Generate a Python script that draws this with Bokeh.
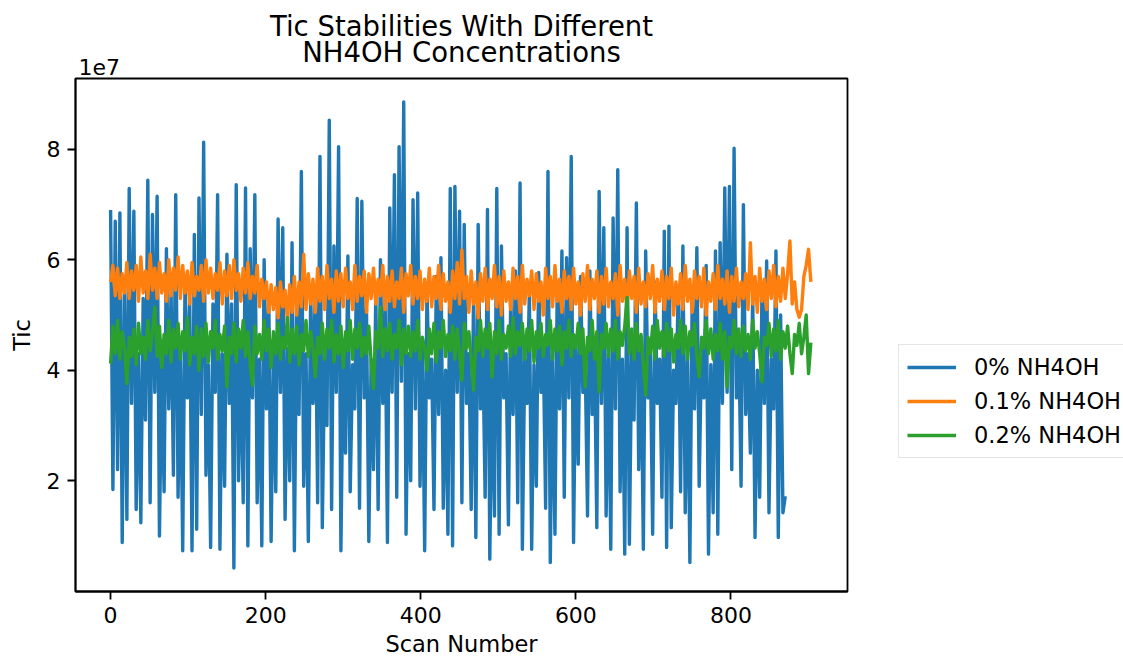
import numpy as np
from bokeh.plotting import figure
from bokeh.models import (Range1d, FixedTicker, CustomJSTickFormatter, Title,
                          Legend, LegendItem)
from bokeh.embed import file_html
from bokeh.resources import INLINE

# ---------------- data (in units of 1e7) ----------------
SCAN_0 = list(range(0, 871, 3))
TIC_0 = [
    6.9, 1.84, 6.7, 2.2, 6.85, 0.88, 5.6, 1.3, 7.29, 3.4,
    6.88, 1.48, 4.3, 1.24, 5.3, 3.1, 7.44, 1.6, 6.82, 3.6,
    7.15, 1.0, 4.2, 1.8, 6.2, 3.3, 5.4, 2.1, 7.18, 1.7,
    4.4, 0.73, 5.6, 3.5, 5.3, 0.73, 6.46, 1.12, 7.12, 3.2,
    8.13, 2.1, 4.1, 0.79, 5.2, 3.6, 7.18, 0.76, 4.3, 1.9,
    6.1, 3.4, 5.2, 0.42, 7.36, 2.0, 4.5, 1.6, 7.3, 0.82,
    6.2, 3.5, 7.18, 1.6, 4.2, 0.82, 6.0, 3.3, 5.3, 0.9,
    4.3, 1.8, 6.74, 3.6, 6.58, 1.3, 4.4, 2.0, 6.31, 0.73,
    5.2, 3.2, 7.6, 1.9, 4.3, 0.9, 5.4, 3.4, 5.5, 1.6,
    7.87, 1.15, 4.2, 3.0, 8.53, 1.48, 6.25, 3.6, 8.05, 0.73,
    4.4, 2.5, 6.07, 1.8, 4.1, 3.3, 7.11, 1.5, 7.06, 3.5,
    5.1, 0.9, 4.2, 2.2, 5.4, 1.48, 6.0, 3.4, 5.3, 0.88,
    6.94, 3.6, 7.54, 1.7, 8.05, 3.8, 8.86, 1.03, 4.3, 2.0,
    7.09, 3.3, 7.21, 1.9, 4.4, 0.73, 5.5, 3.5, 4.2, 1.48,
    5.7, 3.2, 6.04, 1.5, 4.0, 1.03, 7.29, 0.82, 7.33, 3.6,
    6.88, 1.6, 6.64, 3.4, 4.3, 1.48, 5.3, 0.97, 6.64, 3.3,
    4.4, 1.7, 6.91, 0.58, 4.1, 1.36, 7.29, 1.03, 6.25, 3.5,
    4.3, 1.2, 5.4, 3.2, 5.8, 1.6, 7.39, 0.76, 4.2, 3.4,
    5.4, 0.76, 4.1, 1.9, 5.77, 3.6, 4.4, 1.5, 7.6, 0.52,
    4.3, 1.03, 5.6, 3.3, 6.16, 1.7, 6.04, 3.5, 7.87, 0.88,
    4.5, 2.3, 5.7, 3.6, 4.2, 1.36, 5.8, 3.2, 4.4, 1.15,
    7.24, 3.4, 6.58, 1.36, 4.3, 0.76, 6.76, 3.3, 7.63, 1.8,
    4.2, 0.67, 6.58, 0.85, 4.4, 3.1, 7.03, 2.2, 4.5, 0.76,
    6.16, 3.5, 4.3, 1.03, 5.6, 3.4, 4.2, 1.7, 6.52, 0.79,
    6.61, 1.15, 4.0, 3.4, 5.5, 1.8, 6.25, 1.42, 4.3, 0.52,
    5.4, 3.3, 6.22, 1.9, 4.4, 3.5, 5.9, 0.67, 4.1, 1.42,
    6.16, 1.03, 6.31, 3.4, 7.3, 3.6, 7.33, 2.2, 8.02, 3.5,
    4.6, 1.9, 7.0, 3.2, 4.3, 2.5, 5.4, 0.97, 4.0, 1.7,
    5.5, 3.4, 5.98, 1.42, 4.2, 3.3, 6.16, 0.97, 5.0, 1.42, 1.72,
]

SCAN_01 = list(range(0, 904, 3))
TIC_01 = [
    5.6, 5.9, 5.35, 5.85, 5.3, 5.75, 5.4, 5.95, 5.3, 5.8,
    5.45, 5.9, 5.25, 6.05, 5.4, 5.8, 5.3, 6.1, 5.45, 5.85,
    5.3, 5.95, 5.4, 5.75, 5.25, 6.0, 5.35, 5.85, 5.45, 6.05,
    5.3, 5.9, 5.4, 5.8, 5.2, 5.95, 5.35, 5.7, 5.45, 5.9,
    5.25, 6.0, 5.4, 5.85, 5.3, 5.75, 5.45, 5.95, 5.2, 5.8,
    5.35, 5.9, 5.3, 6.0, 5.45, 5.75, 5.25, 5.85, 5.4, 5.95,
    5.3, 5.7, 5.4, 5.9, 5.15, 5.65, 5.3, 5.6, 5.05, 5.55,
    5.1, 5.5, 4.95, 5.6, 5.15, 5.45, 4.9, 5.55, 5.05, 5.7,
    5.0, 5.6, 5.15, 6.1, 5.1, 5.75, 5.2, 5.65, 5.05, 5.85,
    5.25, 5.7, 5.1, 5.9, 5.3, 5.65, 5.05, 5.8, 5.25, 5.75,
    5.15, 5.85, 5.3, 5.6, 5.1, 5.9, 5.25, 5.7, 5.35, 5.8,
    5.05, 5.75, 5.3, 5.85, 5.2, 5.65, 5.35, 5.9, 5.1, 5.7,
    5.25, 5.8, 5.15, 5.6, 5.3, 5.85, 5.05, 5.75, 5.35, 5.9,
    5.2, 5.7, 5.3, 5.8, 5.1, 5.65, 5.25, 5.85, 5.15, 5.7,
    5.3, 5.9, 5.1, 5.75, 5.25, 5.6, 5.05, 5.8, 5.3, 5.95,
    5.2, 6.18, 5.3, 5.7, 5.05, 5.8, 5.2, 5.6, 4.95, 5.75,
    5.25, 5.85, 5.1, 5.65, 5.3, 5.9, 5.15, 5.7, 5.0, 5.8,
    5.25, 5.6, 5.1, 5.85, 5.3, 5.7, 5.05, 5.9, 5.2, 5.65,
    5.35, 5.8, 5.1, 5.75, 5.25, 5.6, 5.0, 5.85, 5.3, 5.7,
    5.15, 5.9, 5.25, 5.65, 5.05, 5.8, 5.3, 5.7, 5.1, 5.85,
    5.2, 5.6, 5.0, 5.75, 5.25, 5.9, 5.1, 5.65, 5.3, 5.8,
    5.05, 5.7, 5.2, 5.85, 5.15, 5.6, 5.3, 5.75, 5.0, 5.9,
    5.25, 5.65, 5.1, 5.8, 5.3, 5.7, 5.05, 5.85, 5.2, 5.6,
    5.15, 5.75, 5.3, 5.9, 5.05, 5.65, 5.25, 5.8, 5.1, 5.7,
    5.3, 5.85, 5.0, 5.6, 5.2, 5.75, 5.1, 5.9, 5.25, 5.65,
    5.05, 5.8, 5.3, 5.7, 5.15, 5.85, 5.0, 5.6, 5.25, 5.75,
    5.1, 5.9, 5.3, 5.65, 5.2, 5.8, 5.05, 5.7, 5.25, 5.85,
    5.15, 5.6, 5.3, 5.75, 5.1, 6.31, 5.2, 5.7, 5.05, 5.85,
    5.25, 5.65, 5.1, 5.8, 5.3, 5.9, 5.15, 5.7, 5.25, 5.85,
    5.3, 5.75, 6.34, 5.2, 5.6, 5.1, 4.96, 5.1, 5.7, 5.9,
    6.19, 5.6,
]

SCAN_02 = list(range(0, 904, 3))
TIC_02 = [
    4.12, 4.8, 4.3, 4.9, 4.2, 4.7, 4.4, 3.76, 4.6, 4.25,
    4.75, 4.1, 4.85, 4.3, 4.6, 4.2, 4.9, 4.35, 4.7, 5.14,
    4.25, 4.8, 4.05, 4.65, 4.3, 4.9, 4.15, 4.75, 4.4, 4.85,
    4.2, 4.7, 4.35, 4.95, 4.1, 4.6, 4.3, 4.8, 4.0, 4.75,
    4.25, 4.85, 4.15, 4.7, 4.4, 4.9, 4.2, 4.65, 4.35, 4.8,
    3.7, 4.6, 4.3, 4.85, 4.15, 4.75, 4.4, 4.9, 4.25, 4.7,
    4.1, 3.73, 4.8, 4.3, 4.65, 4.2, 4.9, 4.35, 4.75, 4.05,
    4.7, 4.3, 4.85, 4.2, 4.6, 4.4, 4.95, 4.15, 4.75, 4.3,
    4.8, 4.1, 4.65, 4.35, 4.9, 4.25, 4.7, 4.4, 3.88, 4.6,
    4.3, 4.85, 4.2, 4.75, 4.4, 4.9, 4.15, 4.65, 4.3, 4.8,
    4.05, 4.7, 4.35, 4.9, 4.2, 4.75, 4.4, 4.85, 4.25, 4.6,
    4.3, 4.8, 4.15, 3.67, 4.7, 4.4, 5.14, 4.25, 4.75, 4.35,
    4.85, 4.2, 4.65, 4.4, 4.9, 4.1, 4.75, 4.3, 4.8, 4.25,
    4.7, 4.35, 4.9, 4.2, 4.6, 4.4, 4.0, 4.75, 4.3, 4.85,
    4.15, 4.7, 4.4, 4.9, 4.25, 4.65, 4.35, 4.8, 4.2, 4.75,
    4.3, 3.82, 4.85, 4.4, 4.7, 4.2, 3.64, 4.6, 4.35, 4.9,
    4.25, 4.75, 4.4, 4.85, 3.88, 4.7, 4.3, 4.9, 4.2, 4.65,
    4.4, 4.8, 4.25, 4.95, 4.3, 4.7, 4.45, 4.85, 4.2, 4.75,
    4.35, 4.9, 4.15, 4.7, 4.4, 4.85, 4.25, 4.65, 4.45, 4.9,
    4.2, 4.75, 4.35, 4.8, 4.1, 4.7, 4.4, 4.9, 4.25, 4.65,
    4.4, 4.85, 4.3, 4.75, 3.7, 4.6, 4.35, 4.9, 4.2, 4.7,
    3.61, 4.65, 4.4, 4.85, 4.25, 4.75, 4.35, 4.9, 4.2, 4.7,
    4.45, 4.8, 5.32, 4.3, 4.75, 4.2, 4.85, 4.35, 4.65, 4.1,
    3.55, 4.6, 4.3, 4.8, 4.2, 4.9, 4.4, 4.7, 4.25, 4.85,
    4.35, 4.75, 4.15, 4.65, 4.4, 4.9, 4.3, 4.8, 4.2, 4.7,
    4.45, 4.85, 4.25, 3.88, 4.6, 4.4, 4.9, 4.3, 4.75, 4.2,
    4.65, 4.35, 4.85, 4.2, 4.7, 3.7, 4.6, 4.4, 4.9, 4.3,
    4.75, 4.25, 4.8, 4.35, 4.65, 4.2, 4.9, 4.4, 4.7, 4.3,
    3.79, 4.6, 4.45, 4.85, 4.25, 4.75, 4.35, 4.9, 4.2, 4.7,
    4.4, 4.8, 4.3, 3.94, 4.65, 4.45, 4.85, 4.3, 4.6, 5.0,
    3.94, 4.5,
]

SCALE = 1e7
SERIES_NAMES = ["0% NH4OH", "0.1% NH4OH", "0.2% NH4OH"]
COLORS = ["#1f77b4", "#ff7f0e", "#2ca02c"]
X_TICKS = [0, 200, 400, 600, 800]
Y_TICKS = [2e7, 4e7, 6e7, 8e7]
TITLE_LINES = ["Tic Stabilities With Different", "NH4OH Concentrations"]
X_LABEL = "Scan Number"
Y_LABEL = "Tic"
OFFSET_TEXT = "1e7"

FONT = "DejaVu Sans"

# ---------------- figure ----------------
p = figure(frame_width=772, height=659, output_backend="svg", toolbar_location=None,
           title=None,
           x_range=Range1d(-45.25, 950.25), y_range=Range1d(-0.006e7, 9.283e7),
           min_border_left=75, min_border_right=276,
           min_border_top=78, min_border_bottom=67)
p.background_fill_color = "white"
p.border_fill_color = "white"
p.outline_line_color = "black"
p.outline_line_width = 1.8
p.grid.visible = False

series = [(SCAN_0, TIC_0), (SCAN_01, TIC_01), (SCAN_02, TIC_02)]
renderers = []
for (xs, ys), c in zip(series, COLORS):
    r = p.line(xs, np.array(ys) * SCALE, line_color=c, line_width=3.4,
               line_join="round")
    renderers.append(r)

p.xaxis.ticker = FixedTicker(ticks=X_TICKS)
p.yaxis.ticker = FixedTicker(ticks=Y_TICKS)
p.yaxis.formatter = CustomJSTickFormatter(code="return (tick/1e7).toFixed(0);")
for ax in (p.xaxis[0], p.yaxis[0]):
    ax.major_tick_out = 8
    ax.major_tick_in = 0
    ax.minor_tick_out = 0
    ax.minor_tick_in = 0
    ax.major_tick_line_width = 1.8
    ax.major_tick_line_color = "black"
    ax.axis_line_color = "black"
    ax.axis_line_width = 1.8
    ax.major_label_text_font = FONT
    ax.major_label_text_font_size = "22px"
    ax.major_label_text_color = "black"
    ax.axis_label_text_font = FONT
    ax.axis_label_text_font_size = "22.5px"
    ax.axis_label_text_font_style = "normal"
    ax.axis_label_text_color = "black"
p.xaxis.major_label_standoff = 7
p.yaxis.major_label_standoff = 7
p.xaxis.axis_label = X_LABEL
p.yaxis.axis_label = Y_LABEL
p.xaxis.axis_label_standoff = 5
p.yaxis.axis_label_standoff = 9

# ---------------- titles (stacked outward from the frame) ----------------
def title(text, size, align, standoff, valign="bottom", offset=0):
    return Title(text=text, align=align, vertical_align=valign, offset=offset,
                 standoff=standoff, text_font=FONT, text_font_size=size,
                 text_font_style="normal", text_color="black")

p.add_layout(title(OFFSET_TEXT, "22px", "left", 8, offset=3), "above")
p.add_layout(title(TITLE_LINES[1], "27.5px", "center", -30.4), "above")
p.add_layout(title(TITLE_LINES[0], "27.5px", "center", 9.2, valign="top"), "above")

# ---------------- legend ----------------
legend = Legend(items=[LegendItem(label=n, renderers=[r])
                       for n, r in zip(SERIES_NAMES, renderers)],
                location=(51, 133), orientation="vertical",
                label_text_font=FONT, label_text_font_size="22.5px",
                label_text_color="black", glyph_width=49, glyph_height=28,
                label_height=28, label_standoff=18, spacing=6, padding=8,
                margin=0, border_line_color="#cccccc", border_line_width=1.5,
                background_fill_color="white", background_fill_alpha=0.8)
p.add_layout(legend, "right")

open("out.html", "w").write(file_html(p, INLINE))
